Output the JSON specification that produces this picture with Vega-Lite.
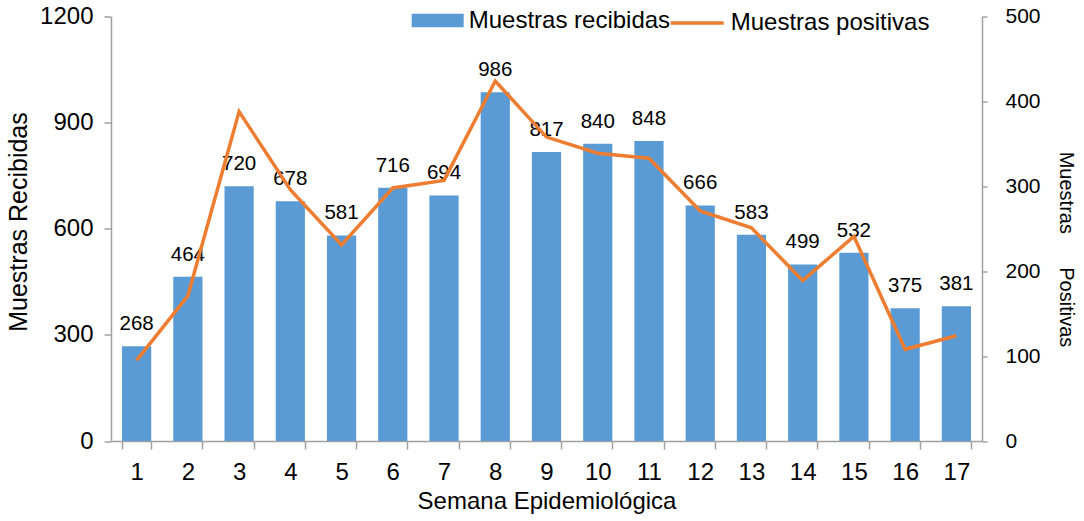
{
  "$schema": "https://vega.github.io/schema/vega-lite/v6.json",
  "autosize": {"type": "none"},
  "width": 871,
  "height": 424.5,
  "padding": {"left": 111, "top": 16.5, "right": 102, "bottom": 80},
  "background": "white",
  "config": {
    "view": {"stroke": null},
    "font": "Liberation Sans",
    "axis": {"grid": false, "domainColor": "#a0a0a0", "tickColor": "#a0a0a0", "labelColor": "#000000", "titleColor": "#000000", "labelFont": "Liberation Sans", "titleFont": "Liberation Sans", "titleFontWeight": "normal", "domainWidth": 1.5, "tickWidth": 1.5}
  },
  "data": {
    "values": [
      {"semana": "1", "recibidas": 268, "positivas": 95},
      {"semana": "2", "recibidas": 464, "positivas": 171},
      {"semana": "3", "recibidas": 720, "positivas": 388},
      {"semana": "4", "recibidas": 678, "positivas": 296},
      {"semana": "5", "recibidas": 581, "positivas": 231},
      {"semana": "6", "recibidas": 716, "positivas": 298},
      {"semana": "7", "recibidas": 694, "positivas": 307},
      {"semana": "8", "recibidas": 986, "positivas": 424},
      {"semana": "9", "recibidas": 817, "positivas": 358},
      {"semana": "10", "recibidas": 840, "positivas": 339},
      {"semana": "11", "recibidas": 848, "positivas": 333},
      {"semana": "12", "recibidas": 666, "positivas": 271},
      {"semana": "13", "recibidas": 583, "positivas": 251},
      {"semana": "14", "recibidas": 499, "positivas": 189},
      {"semana": "15", "recibidas": 532, "positivas": 241},
      {"semana": "16", "recibidas": 375, "positivas": 108},
      {"semana": "17", "recibidas": 381, "positivas": 124}
    ]
  },
  "encoding": {
    "x": {
      "field": "semana", "type": "ordinal", "sort": null,
      "scale": {"paddingInner": 0.43, "paddingOuter": 0.215},
      "axis": {"title": "Semana Epidemiológica", "labelAngle": 0, "labelFontSize": 24, "titleFontSize": 24, "tickBand": "extent", "tickSize": 8, "labelPadding": 11, "titlePadding": 5}
    }
  },
  "layer": [
    {
      "layer": [
        {
          "mark": {"type": "bar"},
          "encoding": {
            "y": {"field": "recibidas", "type": "quantitative", "scale": {"domain": [0, 1200]},
              "axis": {"title": "Muestras Recibidas", "format": "d", "values": [0, 300, 600, 900, 1200], "labelFontSize": 24, "titleFontSize": 25, "titleColor": "#000000", "titleY": 205, "tickSize": 7, "labelPadding": 11, "titlePadding": 8}},
            "color": {"datum": "Muestras recibidas", "scale": {"range": ["#5B9BD5"]},
              "legend": {"orient": "none", "legendX": 300.7, "legendY": -22, "title": null, "padding": 0, "symbolType": "M-1,-0.26H1V0.26H-1Z", "symbolSize": 2704, "symbolStrokeWidth": 0, "labelFontSize": 24, "labelLimit": 500, "labelOffset": 5, "labelFont": "Liberation Sans", "labelColor": "#000000"}}
          }
        },
        {
          "mark": {"type": "text", "baseline": "alphabetic", "dy": -16, "fontSize": 20.5, "font": "Liberation Sans", "color": "#000000"},
          "encoding": {
            "y": {"field": "recibidas", "type": "quantitative"},
            "text": {"field": "recibidas", "type": "quantitative"}
          }
        }
      ]
    },
    {
      "mark": {"type": "line", "strokeWidth": 3.5},
      "encoding": {
        "y": {"field": "positivas", "type": "quantitative", "scale": {"domain": [0, 500]},
          "axis": {"orient": "right", "title": "Muestras\u00a0\u00a0\u00a0\u00a0\u00a0\u00a0Positivas", "values": [0, 100, 200, 300, 400, 500], "labelFontSize": 21, "titleFontSize": 20, "titleColor": "#000000", "titleY": 232.5, "tickSize": 5, "labelPadding": 18, "titlePadding": 15}},
        "stroke": {"datum": "Muestras positivas", "scale": {"range": ["#ED7D31"]},
          "legend": {"orient": "none", "legendX": 557.7, "legendY": -22, "title": null, "padding": 0, "symbolType": "stroke", "symbolSize": 2809, "symbolStrokeWidth": 3.5, "labelFontSize": 24, "labelLimit": 500, "labelOffset": 5, "labelFont": "Liberation Sans", "labelColor": "#000000"}}
      }
    }
  ],
  "resolve": {"scale": {"y": "independent"}}
}
